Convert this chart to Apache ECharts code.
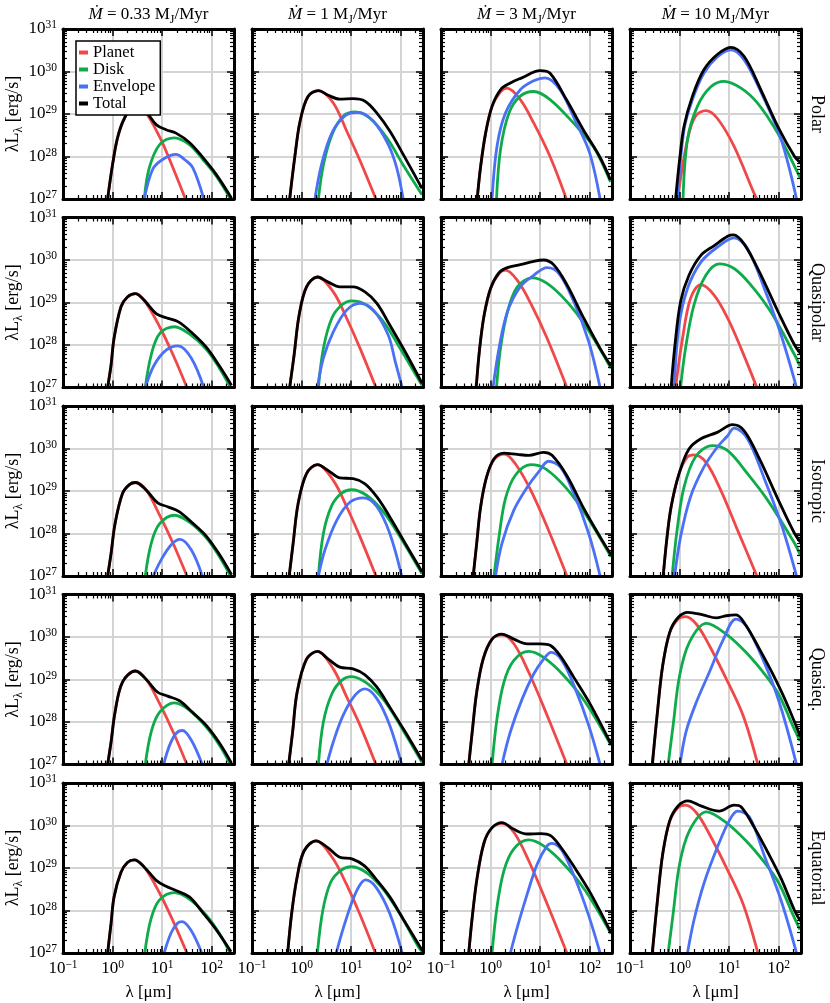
<!DOCTYPE html>
<html>
<head>
<meta charset="utf-8">
<script src="https://cdn.jsdelivr.net/npm/echarts@6/dist/echarts.min.js"></script>
<style>
html, body {margin: 0; padding: 0; background: #fff;}
#chart {width: 830px; height: 1003px;}
</style>
</head>
<body>
<div id="chart"></div>
<script>
// points are [log10(lambda / um), log10(lambda L_lambda / erg s^-1)]

// ---- Polar ----
var planetPolar033 = [[-0.10,27.0],[0.0,27.81],[0.10,28.44],[0.24,28.9],[0.44,29.2],[0.64,29.08],[0.95,28.46],[1.22,27.73],[1.47,27.0]];
var diskPolar033 = [[0.64,27.0],[0.74,27.73],[0.95,28.28],[1.25,28.44],[1.55,28.28],[1.82,27.93],[2.09,27.54],[2.38,27.0]];
var envPolar033 = [[0.64,27.0],[0.81,27.7],[1.01,27.93],[1.28,28.05],[1.45,27.93],[1.62,27.73],[1.84,27.0]];
var totalPolar033 = [[-0.10,27.0],[0.0,27.81],[0.10,28.44],[0.24,28.9],[0.44,29.2],[0.64,29.1],[0.88,28.75],[1.08,28.63],[1.28,28.55],[1.55,28.33],[1.82,27.98],[2.09,27.58],[2.40,27.02]];

var planetPolar1 = [[-0.24,27.0],[-0.13,28.05],[-0.03,28.83],[0.13,29.41],[0.34,29.55],[0.64,29.26],[0.91,28.6],[1.18,27.9],[1.5,27.0]];
var diskPolar1 = [[0.34,27.0],[0.44,27.8],[0.61,28.5],[0.84,28.95],[1.08,29.05],[1.38,28.9],[1.72,28.44],[2.05,27.8],[2.43,27.1]];
var envPolar1 = [[0.27,27.0],[0.40,27.8],[0.61,28.55],[0.88,28.96],[1.14,29.04],[1.45,28.83],[1.75,28.28],[1.92,27.73],[2.05,27.0]];
var totalPolar1 = [[-0.24,27.0],[-0.13,28.05],[-0.03,28.83],[0.13,29.41],[0.34,29.55],[0.54,29.44],[0.77,29.35],[1.04,29.36],[1.28,29.3],[1.52,29.02],[1.78,28.6],[2.05,28.05],[2.43,27.25]];

var planetPolar3 = [[-0.27,27.0],[-0.2,27.77],[-0.1,28.55],[0.03,29.18],[0.2,29.52],[0.33,29.61],[0.6,29.34],[0.87,28.79],[1.2,28.0],[1.53,27.0]];
var diskPolar3 = [[0.12,27.0],[0.2,28.16],[0.37,29.02],[0.6,29.42],[0.87,29.53],[1.2,29.34],[1.67,28.79],[2.07,28.24],[2.42,27.4]];
var envPolar3 = [[0.03,27.0],[0.13,28.24],[0.3,29.02],[0.6,29.57],[0.87,29.78],[1.1,29.85],[1.4,29.57],[1.73,28.79],[2.0,28.08],[2.21,27.0]];
var totalPolar3 = [[-0.27,27.0],[-0.2,27.77],[-0.1,28.55],[0.03,29.18],[0.2,29.57],[0.4,29.73],[0.63,29.85],[1.0,30.02],[1.2,29.96],[1.53,29.34],[1.87,28.63],[2.2,28.0],[2.42,27.45]];

var planetPolar10 = [[-0.04,27.0],[0.16,28.4],[0.32,28.95],[0.53,29.08],[0.76,28.9],[1.1,28.24],[1.5,27.14],[1.56,27.0]];
var diskPolar10 = [[0.07,27.0],[0.16,28.4],[0.36,29.18],[0.63,29.64],[0.9,29.77],[1.24,29.61],[1.57,29.26],[1.98,28.55],[2.32,27.77],[2.43,27.5]];
var envPolar10 = [[-0.04,27.0],[0.09,28.63],[0.26,29.34],[0.49,29.96],[0.76,30.34],[1.03,30.51],[1.3,30.28],[1.68,29.42],[2.05,28.4],[2.36,27.0]];
var totalPolar10 = [[-0.08,27.0],[0.0,27.92],[0.09,28.71],[0.26,29.42],[0.49,30.04],[0.76,30.4],[1.03,30.57],[1.3,30.36],[1.64,29.57],[1.98,28.71],[2.32,28.0],[2.44,27.85]];

// ---- Quasipolar ----
var planetQpol033 = [[-0.10,27.0],[-0.03,27.53],[0.03,28.16],[0.17,28.9],[0.30,29.13],[0.46,29.21],[0.64,29.05],[0.95,28.43],[1.22,27.77],[1.5,27.0]];
var diskQpol033 = [[0.66,27.0],[0.78,27.77],[0.95,28.27],[1.25,28.43],[1.55,28.26],[1.89,27.9],[2.16,27.45],[2.38,27.0]];
var envQpol033 = [[0.66,27.0],[0.84,27.53],[1.08,27.88],[1.32,27.98],[1.59,27.69],[1.84,27.0]];
var totalQpol033 = [[-0.10,27.0],[-0.03,27.53],[0.03,28.16],[0.17,28.9],[0.30,29.13],[0.46,29.21],[0.64,29.05],[0.88,28.74],[1.08,28.64],[1.32,28.55],[1.59,28.3],[1.89,27.95],[2.16,27.5],[2.40,27.05]];

var planetQpol1 = [[-0.24,27.0],[-0.15,27.77],[-0.05,28.7],[0.1,29.37],[0.32,29.6],[0.64,29.25],[0.91,28.63],[1.18,27.92],[1.5,27.0]];
var diskQpol1 = [[0.34,27.0],[0.44,27.92],[0.61,28.63],[0.81,28.94],[1.01,29.04],[1.31,28.94],[1.65,28.55],[1.99,27.92],[2.43,27.05]];
var envQpol1 = [[0.32,27.0],[0.44,27.69],[0.64,28.31],[0.91,28.82],[1.18,28.98],[1.45,28.82],[1.75,28.23],[1.89,27.61],[2.03,27.0]];
var totalQpol1 = [[-0.24,27.0],[-0.15,27.77],[-0.05,28.7],[0.1,29.37],[0.32,29.6],[0.54,29.48],[0.77,29.37],[1.04,29.37],[1.28,29.25],[1.52,28.98],[1.78,28.47],[2.09,27.84],[2.43,27.1]];

var planetQpol3 = [[-0.29,27.0],[-0.22,27.92],[-0.13,28.7],[0.0,29.33],[0.17,29.68],[0.3,29.76],[0.54,29.52],[0.81,28.98],[1.14,28.16],[1.54,27.0]];
var diskQpol3 = [[0.12,27.0],[0.2,27.92],[0.34,28.78],[0.54,29.37],[0.84,29.58],[1.14,29.45],[1.54,29.02],[1.95,28.39],[2.43,27.45]];
var envQpol3 = [[0.05,27.0],[0.17,27.92],[0.34,28.78],[0.6,29.37],[0.87,29.64],[1.14,29.82],[1.38,29.68],[1.68,29.02],[1.98,28.08],[2.21,27.0]];
var totalQpol3 = [[-0.29,27.0],[-0.22,27.92],[-0.13,28.7],[0.0,29.33],[0.17,29.7],[0.34,29.82],[0.6,29.89],[0.87,29.97],[1.07,30.0],[1.28,29.88],[1.54,29.42],[1.88,28.63],[2.21,27.92],[2.43,27.5]];

var planetQpol10 = [[-0.08,27.0],[0.05,28.08],[0.22,29.09],[0.43,29.42],[0.7,29.17],[0.97,28.63],[1.24,27.92],[1.56,27.0]];
var diskQpol10 = [[0.02,27.0],[0.12,27.92],[0.29,28.94],[0.53,29.64],[0.8,29.91],[1.1,29.8],[1.44,29.41],[1.84,28.78],[2.32,27.77],[2.43,27.5]];
var envQpol10 = [[-0.11,27.0],[-0.01,28.47],[0.16,29.33],[0.43,29.95],[0.76,30.3],[1.1,30.52],[1.37,30.27],[1.71,29.33],[2.05,28.23],[2.36,27.0]];
var totalQpol10 = [[-0.17,27.0],[-0.1,27.92],[0.02,29.02],[0.19,29.64],[0.43,30.11],[0.7,30.34],[0.97,30.56],[1.09,30.59],[1.3,30.38],[1.61,29.72],[1.98,28.8],[2.32,28.0],[2.44,27.8]];

// ---- Isotropic ----
var planetIso033 = [[-0.10,27.0],[-0.03,27.53],[0.05,28.23],[0.2,28.94],[0.34,29.15],[0.46,29.2],[0.68,29.02],[0.95,28.43],[1.22,27.77],[1.5,27.0]];
var diskIso033 = [[0.66,27.0],[0.78,27.77],[0.95,28.23],[1.25,28.43],[1.55,28.27],[1.89,27.9],[2.16,27.45],[2.38,27.0]];
var envIso033 = [[0.82,27.0],[0.98,27.38],[1.18,27.73],[1.36,27.86],[1.59,27.61],[1.81,27.0]];
var totalIso033 = [[-0.10,27.0],[-0.03,27.53],[0.05,28.23],[0.2,28.94],[0.34,29.15],[0.46,29.2],[0.68,29.02],[0.91,28.72],[1.11,28.63],[1.35,28.51],[1.62,28.24],[1.89,27.94],[2.16,27.5],[2.40,27.03]];

var planetIso1 = [[-0.25,27.0],[-0.17,27.77],[-0.07,28.7],[0.1,29.41],[0.32,29.62],[0.64,29.25],[0.91,28.63],[1.18,27.92],[1.5,27.0]];
var diskIso1 = [[0.34,27.0],[0.44,28.0],[0.61,28.66],[0.81,28.95],[1.01,29.03],[1.31,28.9],[1.65,28.51],[1.99,27.92],[2.43,27.05]];
var envIso1 = [[0.34,27.0],[0.47,27.61],[0.71,28.31],[0.98,28.74],[1.25,28.84],[1.52,28.63],[1.78,28.0],[2.02,27.0]];
var totalIso1 = [[-0.25,27.0],[-0.17,27.77],[-0.07,28.7],[0.1,29.41],[0.32,29.62],[0.54,29.48],[0.77,29.31],[1.04,29.29],[1.28,29.17],[1.52,28.86],[1.78,28.39],[2.09,27.77],[2.43,27.1]];

var planetIso3 = [[-0.35,27.0],[-0.28,27.77],[-0.2,28.63],[-0.08,29.33],[0.07,29.74],[0.28,29.87],[0.5,29.64],[0.81,29.02],[1.14,28.16],[1.54,27.0]];
var diskIso3 = [[0.07,27.0],[0.17,27.92],[0.3,28.82],[0.5,29.37],[0.81,29.62],[1.11,29.52],[1.54,29.05],[1.95,28.39],[2.43,27.45]];
var envIso3 = [[0.1,27.0],[0.23,27.77],[0.47,28.55],[0.74,29.09],[0.97,29.45],[1.17,29.7],[1.41,29.56],[1.68,28.94],[1.98,28.0],[2.21,27.0]];
var totalIso3 = [[-0.35,27.0],[-0.28,27.77],[-0.2,28.63],[-0.08,29.33],[0.07,29.76],[0.27,29.89],[0.54,29.86],[0.77,29.84],[1.07,29.91],[1.24,29.84],[1.54,29.36],[1.88,28.59],[2.21,27.92],[2.43,27.5]];

var planetIso10 = [[-0.33,27.0],[-0.26,27.84],[-0.17,28.63],[-0.01,29.41],[0.16,29.8],[0.29,29.85],[0.53,29.68],[0.83,29.02],[1.17,28.08],[1.56,27.0]];
var diskIso10 = [[-0.15,27.0],[-0.05,28.08],[0.09,29.09],[0.32,29.8],[0.66,30.07],[0.97,29.95],[1.37,29.41],[1.78,28.78],[2.32,27.77],[2.43,27.5]];
var envIso10 = [[-0.1,27.0],[0.02,27.92],[0.22,28.86],[0.49,29.56],[0.76,30.03],[0.97,30.3],[1.1,30.48],[1.37,30.23],[1.71,29.29],[2.05,28.23],[2.36,27.0]];
var totalIso10 = [[-0.33,27.0],[-0.26,27.84],[-0.17,28.63],[-0.01,29.41],[0.19,29.99],[0.43,30.23],[0.76,30.38],[1.07,30.56],[1.3,30.42],[1.61,29.76],[1.98,28.82],[2.32,28.0],[2.44,27.8]];

// ---- Quasiequatorial ----
var planetQeq033 = [[-0.10,27.0],[-0.03,27.53],[0.05,28.23],[0.2,28.94],[0.46,29.2],[0.68,29.0],[0.95,28.43],[1.22,27.77],[1.5,27.0]];
var diskQeq033 = [[0.66,27.0],[0.78,27.77],[0.95,28.23],[1.25,28.45],[1.55,28.28],[1.89,27.88],[2.16,27.45],[2.38,27.0]];
var envQeq033 = [[1.03,27.0],[1.15,27.45],[1.28,27.73],[1.41,27.8],[1.59,27.57],[1.81,27.0]];
var totalQeq033 = [[-0.10,27.0],[-0.03,27.53],[0.05,28.23],[0.2,28.94],[0.46,29.2],[0.68,29.0],[0.91,28.7],[1.11,28.61],[1.35,28.5],[1.62,28.22],[1.89,27.92],[2.16,27.5],[2.40,27.03]];

var planetQeq1 = [[-0.26,27.0],[-0.18,27.77],[-0.09,28.7],[0.1,29.48],[0.32,29.66],[0.64,29.25],[0.91,28.59],[1.18,27.92],[1.5,27.0]];
var diskQeq1 = [[0.34,27.0],[0.44,28.0],[0.61,28.66],[0.81,28.98],[1.01,29.07],[1.31,28.92],[1.65,28.53],[1.99,27.92],[2.43,27.05]];
var envQeq1 = [[0.51,27.0],[0.64,27.53],[0.84,28.16],[1.08,28.63],[1.28,28.78],[1.52,28.55],[1.78,27.92],[2.02,27.0]];
var totalQeq1 = [[-0.26,27.0],[-0.18,27.77],[-0.09,28.7],[0.1,29.48],[0.32,29.66],[0.54,29.48],[0.77,29.29],[1.04,29.25],[1.28,29.11],[1.52,28.82],[1.78,28.35],[2.09,27.77],[2.43,27.1]];

var planetQeq3 = [[-0.44,27.0],[-0.37,27.77],[-0.28,28.7],[-0.15,29.48],[0.03,29.95],[0.23,30.05],[0.47,29.84],[0.77,29.17],[1.14,28.16],[1.54,27.0]];
var diskQeq3 = [[0.03,27.0],[0.13,28.08],[0.27,28.94],[0.47,29.45],[0.77,29.66],[1.07,29.52],[1.48,29.09],[1.91,28.47],[2.43,27.45]];
var envQeq3 = [[0.23,27.0],[0.4,27.77],[0.64,28.55],[0.87,29.13],[1.07,29.48],[1.22,29.64],[1.44,29.45],[1.71,28.78],[1.98,27.92],[2.21,27.0]];
var totalQeq3 = [[-0.44,27.0],[-0.37,27.77],[-0.28,28.7],[-0.15,29.48],[0.03,29.95],[0.23,30.07],[0.47,29.95],[0.74,29.84],[1.01,29.84],[1.21,29.8],[1.41,29.55],[1.68,29.05],[2.01,28.42],[2.43,27.48]];

var planetQeq10 = [[-0.55,27.0],[-0.44,28.31],[-0.34,29.33],[-0.2,30.09],[-0.03,30.42],[0.12,30.48],[0.34,30.3],[0.6,29.8],[0.94,29.02],[1.28,28.16],[1.58,27.0]];
var diskQeq10 = [[-0.23,27.0],[-0.13,27.92],[0.0,29.09],[0.2,29.88],[0.54,30.32],[0.94,30.07],[1.34,29.64],[1.74,29.09],[2.01,28.63],[2.28,27.92],[2.43,27.55]];
var envQeq10 = [[0.01,27.0],[0.13,27.77],[0.34,28.47],[0.6,29.17],[0.87,29.91],[1.14,30.42],[1.34,30.27],[1.68,29.48],[2.01,28.47],[2.36,27.0]];
var totalQeq10 = [[-0.55,27.0],[-0.44,28.31],[-0.34,29.33],[-0.2,30.11],[-0.03,30.46],[0.17,30.58],[0.47,30.52],[0.74,30.45],[0.94,30.5],[1.14,30.52],[1.34,30.27],[1.61,29.72],[1.88,29.13],[2.15,28.47],[2.44,27.65]];

// ---- Equatorial ----
var planetEq033 = [[-0.10,27.0],[-0.03,27.7],[0.03,28.32],[0.17,28.9],[0.3,29.13],[0.44,29.19],[0.64,29.02],[0.94,28.43],[1.21,27.78],[1.5,27.0]];
var diskEq033 = [[0.65,27.0],[0.77,27.78],[0.94,28.24],[1.25,28.42],[1.55,28.27],[1.89,27.89],[2.15,27.47],[2.37,27.0]];
var envEq033 = [[1.04,27.0],[1.18,27.47],[1.31,27.7],[1.4,27.74],[1.58,27.54],[1.8,27.0]];
var totalEq033 = [[-0.10,27.0],[-0.03,27.7],[0.03,28.32],[0.17,28.9],[0.3,29.13],[0.44,29.19],[0.64,29.02],[0.88,28.71],[1.08,28.57],[1.28,28.47],[1.55,28.32],[1.82,27.95],[2.09,27.55],[2.39,27.03]];

var planetEq1 = [[-0.28,27.0],[-0.2,27.93],[-0.09,28.78],[0.05,29.4],[0.29,29.64],[0.63,29.23],[0.9,28.63],[1.17,27.93],[1.49,27.0]];
var diskEq1 = [[0.32,27.0],[0.43,28.01],[0.59,28.67],[0.8,28.95],[1.0,29.03],[1.3,28.9],[1.64,28.51],[1.98,27.93],[2.35,27.16],[2.44,27.02]];
var envEq1 = [[0.7,27.0],[0.83,27.54],[1.03,28.24],[1.17,28.59],[1.29,28.72],[1.5,28.55],[1.78,27.93],[2.03,27.0]];
var totalEq1 = [[-0.28,27.0],[-0.2,27.93],[-0.09,28.78],[0.05,29.4],[0.29,29.64],[0.53,29.48],[0.76,29.26],[1.03,29.21],[1.27,29.05],[1.5,28.74],[1.78,28.32],[2.08,27.74],[2.44,27.05]];

var planetEq3 = [[-0.44,27.0],[-0.37,27.84],[-0.27,28.78],[-0.13,29.6],[0.03,29.95],[0.23,30.05],[0.47,29.84],[0.77,29.17],[1.14,28.16],[1.54,27.0]];
var diskEq3 = [[0.03,27.0],[0.13,28.08],[0.27,28.94],[0.47,29.45],[0.77,29.66],[1.07,29.52],[1.48,29.09],[1.91,28.47],[2.43,27.45]];
var envEq3 = [[0.4,27.0],[0.54,27.61],[0.74,28.39],[0.94,29.09],[1.14,29.52],[1.24,29.58],[1.44,29.41],[1.71,28.74],[1.98,27.88],[2.21,27.0]];
var totalEq3 = [[-0.44,27.0],[-0.37,27.84],[-0.27,28.78],[-0.13,29.6],[0.03,29.95],[0.23,30.07],[0.47,29.91],[0.74,29.8],[1.01,29.81],[1.21,29.76],[1.41,29.5],[1.68,29.04],[2.01,28.42],[2.43,27.48]];

var planetEq10 = [[-0.55,27.0],[-0.44,28.31],[-0.34,29.33],[-0.2,30.09],[-0.03,30.42],[0.12,30.48],[0.34,30.3],[0.6,29.8],[0.94,29.02],[1.28,28.16],[1.58,27.0]];
var diskEq10 = [[-0.23,27.0],[-0.13,27.92],[0.0,29.09],[0.2,29.88],[0.54,30.32],[0.94,30.07],[1.34,29.64],[1.74,29.09],[2.01,28.63],[2.28,27.92],[2.43,27.55]];
var envEq10 = [[0.16,27.0],[0.29,27.77],[0.49,28.63],[0.76,29.48],[1.0,30.11],[1.17,30.34],[1.41,30.2],[1.71,29.29],[2.05,28.23],[2.36,27.0]];
var totalEq10 = [[-0.55,27.0],[-0.44,28.31],[-0.34,29.33],[-0.2,30.11],[-0.03,30.46],[0.17,30.58],[0.43,30.46],[0.8,30.34],[1.1,30.48],[1.24,30.44],[1.51,29.95],[1.78,29.37],[2.05,28.75],[2.32,28.0],[2.44,27.75]];

var rateLabels = ['0.33', '1', '3', '10'];
var geometries = ['Polar', 'Quasipolar', 'Isotropic', 'Quasieq.', 'Equatorial'];
var seriesNames = ['Planet', 'Disk', 'Envelope', 'Total'];
var xRange = [-1, 2.45];   // log10 of 0.1 um .. ~280 um
var yRange = [27, 31];

// rows = geometries, columns = accretion rates
var panels = [
    [[planetPolar033, diskPolar033, envPolar033, totalPolar033], [planetPolar1, diskPolar1, envPolar1, totalPolar1],
     [planetPolar3, diskPolar3, envPolar3, totalPolar3], [planetPolar10, diskPolar10, envPolar10, totalPolar10]],
    [[planetQpol033, diskQpol033, envQpol033, totalQpol033], [planetQpol1, diskQpol1, envQpol1, totalQpol1],
     [planetQpol3, diskQpol3, envQpol3, totalQpol3], [planetQpol10, diskQpol10, envQpol10, totalQpol10]],
    [[planetIso033, diskIso033, envIso033, totalIso033], [planetIso1, diskIso1, envIso1, totalIso1],
     [planetIso3, diskIso3, envIso3, totalIso3], [planetIso10, diskIso10, envIso10, totalIso10]],
    [[planetQeq033, diskQeq033, envQeq033, totalQeq033], [planetQeq1, diskQeq1, envQeq1, totalQeq1],
     [planetQeq3, diskQeq3, envQeq3, totalQeq3], [planetQeq10, diskQeq10, envQeq10, totalQeq10]],
    [[planetEq033, diskEq033, envEq033, totalEq033], [planetEq1, diskEq1, envEq1, totalEq1],
     [planetEq3, diskEq3, envEq3, totalEq3], [planetEq10, diskEq10, envEq10, totalEq10]]
];

var colors = ['#f04848', '#0dab4a', '#4a70f6', '#000000'];
var serif = 'Liberation Serif';

var left0 = 63, colStep = 189, gw = 171;
var top0 = 29, rowStep = 188.5, gh = 170;

function minorValues(range) {
    var out = [];
    for (var d = Math.floor(range[0]); d < range[1]; d++) {
        for (var k = 2; k <= 9; k++) {
            var v = d + Math.log10(k);
            if (v > range[0] && v < range[1]) out.push(v);
        }
    }
    return out;
}
var xMinor = minorValues(xRange);
var yMinor = minorValues(yRange);

var supRich = {
    b: {fontFamily: serif, fontSize: 17, color: '#000', lineHeight: 20},
    s: {fontFamily: serif, fontSize: 11.5, color: '#000', verticalAlign: 'top', lineHeight: 12}
};
function powLabel(v) {
    var n = Math.round(v);
    return '{b|10}{s|' + (n < 0 ? '\u2212' + (-n) : n) + '}';
}
function nameRich(size) {
    return {
        n: {fontFamily: serif, fontSize: size, color: '#000', lineHeight: 22},
        i: {fontFamily: serif, fontSize: size, color: '#000', fontStyle: 'italic', lineHeight: 22},
        u: {fontFamily: serif, fontSize: Math.round(size * 0.68), color: '#000', verticalAlign: 'bottom', lineHeight: 13}
    };
}

function axisBase(gi, pos, range) {
    return {
        type: 'value', gridIndex: gi, position: pos, min: range[0], max: range[1], interval: 1,
        axisLine: {show: false, onZero: false}, axisTick: {show: false},
        axisLabel: {show: false}, splitLine: {show: false}, silent: true
    };
}
function frameAxis(gi, pos, range) {
    var a = axisBase(gi, pos, range);
    a.z = 5;
    a.axisLine = {show: true, onZero: false, lineStyle: {color: '#000', width: 3}};
    a.axisTick = {show: true, inside: true, length: 7, lineStyle: {color: '#000', width: 1.5}};
    return a;
}
function minorAxis(gi, pos, range, vals) {
    var a = axisBase(gi, pos, range);
    a.z = 5;
    a.axisTick = {show: true, inside: true, length: 4, customValues: vals, lineStyle: {color: '#000', width: 1.2}};
    return a;
}

var grids = [], xAxes = [], yAxes = [], series = [];
for (var r = 0; r < geometries.length; r++) {
    for (var c = 0; c < rateLabels.length; c++) {
        var gi = grids.length;
        grids.push({left: left0 + c * colStep, top: top0 + r * rowStep, width: gw, height: gh});

        // x: gridlines/labels, bottom frame, bottom minor, top frame, top minor
        var xa = axisBase(gi, 'bottom', xRange);
        xa.splitLine = {show: true, lineStyle: {color: '#d4d4d4', width: 2}};
        if (r === geometries.length - 1) {
            xa.axisLabel = {show: true, margin: 6, fontFamily: serif, formatter: powLabel, showMaxLabel: false, rich: supRich};
            xa.name = '{n|\u03bb [\u03bcm]}';
            xa.nameLocation = 'middle';
            xa.nameGap = 29;
            xa.nameTextStyle = {fontFamily: serif, rich: nameRich(17)};
        }
        var xTop = frameAxis(gi, 'top', xRange);
        if (r === 0) {
            xTop.name = '{i|\u1e40}{n| = ' + rateLabels[c] + ' M}{u|J}{n|/Myr}';
            xTop.nameLocation = 'middle';
            xTop.nameGap = 3;
            xTop.nameTextStyle = {fontFamily: serif, rich: nameRich(17)};
        }
        xAxes.push(xa, frameAxis(gi, 'bottom', xRange), minorAxis(gi, 'bottom', xRange, xMinor),
                   xTop, minorAxis(gi, 'top', xRange, xMinor));

        // y: gridlines/labels, left frame, left minor, right frame, right minor
        var ya = axisBase(gi, 'left', yRange);
        ya.splitLine = {show: true, lineStyle: {color: '#d4d4d4', width: 2}};
        if (c === 0) {
            ya.axisLabel = {show: true, margin: 6, fontFamily: serif, formatter: powLabel, rich: supRich};
            ya.name = '{n|\u03bbL}{u|\u03bb}{n| [erg/s]}';
            ya.nameLocation = 'middle';
            ya.nameGap = 33;
            ya.nameTextStyle = {fontFamily: serif, rich: nameRich(18)};
        }
        var yRight = frameAxis(gi, 'right', yRange);
        if (c === rateLabels.length - 1) {
            yRight.name = '{n|' + geometries[r] + '}';
            yRight.nameLocation = 'middle';
            yRight.nameRotate = -90;
            yRight.nameGap = 5;
            yRight.nameTextStyle = {fontFamily: serif, rich: nameRich(18)};
        }
        yAxes.push(ya, frameAxis(gi, 'left', yRange), minorAxis(gi, 'left', yRange, yMinor),
                   yRight, minorAxis(gi, 'right', yRange, yMinor));

        var curves = panels[r][c];
        for (var k = 0; k < curves.length; k++) {
            series.push({
                type: 'line', name: seriesNames[k], data: curves[k],
                xAxisIndex: gi * 5, yAxisIndex: gi * 5,
                smooth: 0.35, showSymbol: false, symbol: 'none', silent: true,
                color: colors[k],
                lineStyle: {color: colors[k], width: 2.8}
            });
        }
    }
}

var chart = echarts.init(document.getElementById('chart'));
chart.setOption({
    animation: false,
    backgroundColor: '#fff',
    textStyle: {fontFamily: serif, color: '#000'},
    legend: {
        data: seriesNames, left: 76, top: 41, orient: 'vertical',
        icon: 'rect', itemWidth: 9, itemHeight: 4, itemGap: 0,
        padding: [3, 5, 3, 3], backgroundColor: '#fff', borderColor: '#000', borderWidth: 1.5,
        formatter: '{t|{name}}',
        textStyle: {
            fontFamily: serif, fontSize: 16.5, color: '#000', lineHeight: 15,
            rich: {t: {fontFamily: serif, fontSize: 16.5, color: '#000', lineHeight: 15}}
        },
        selectedMode: false
    },
    grid: grids,
    xAxis: xAxes,
    yAxis: yAxes,
    series: series
});
</script>
</body>
</html>
